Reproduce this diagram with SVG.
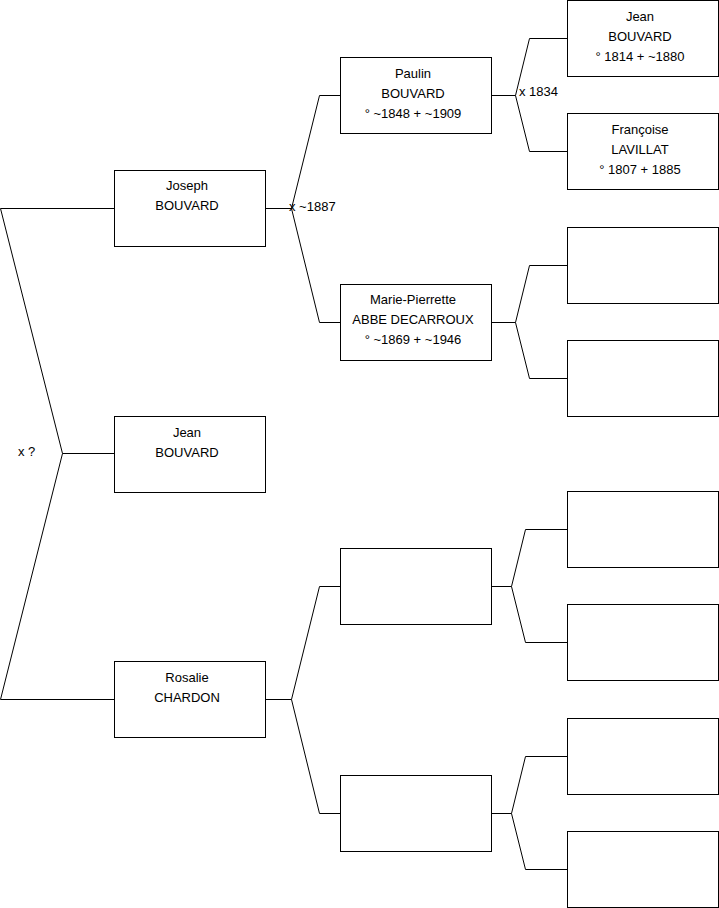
<svg xmlns="http://www.w3.org/2000/svg" width="719" height="908" viewBox="0 0 719 908">
<style>
.box{fill:#fff;stroke:#000;stroke-width:1}
.ln{fill:none;stroke:#000;stroke-width:1}
text{font-family:"Liberation Sans",Arial,sans-serif;font-size:13px;fill:#000}
.c{text-anchor:middle}
</style>
<rect width="719" height="908" fill="#fff"/>
<g id="connectors">
<path class="ln" d="M0.5,208.5 H114 M0.5,208.5 L62.5,453.5 L0.5,699.5 H114 M62.5,453.5 H114"/>
<path class="ln" d="M265,208.5 H291.5 M319.5,95.5 L291.5,208.5 L319.5,322.5 M319.5,95.5 H340 M319.5,322.5 H340"/>
<path class="ln" d="M265,699.5 H291.5 M319.5,586.5 L291.5,699.5 L319.5,813.5 M319.5,586.5 H340 M319.5,813.5 H340"/>
<path class="ln" d="M491,95.5 H515.5 M529.5,38.5 L515.5,95.5 L529.5,151.5 M529.5,38.5 H567 M529.5,151.5 H567"/>
<path class="ln" d="M491,322.5 H515.5 M529.5,265.5 L515.5,322.5 L529.5,378.5 M529.5,265.5 H567 M529.5,378.5 H567"/>
<path class="ln" d="M491,586.5 H511.5 M525.5,529.5 L511.5,586.5 L525.5,642.5 M525.5,529.5 H567 M525.5,642.5 H567"/>
<path class="ln" d="M491,813.5 H511.5 M525.5,756.5 L511.5,813.5 L525.5,869.5 M525.5,756.5 H567 M525.5,869.5 H567"/>
<text x="289" y="211">x ~1887</text>
<text x="519" y="96">x 1834</text>
<text x="18" y="456">x ?</text>
</g>
<g id="joseph"><rect class="box" x="114.5" y="170.5" width="151" height="76"/><text class="c" x="187" y="190">Joseph</text><text class="c" x="187" y="210">BOUVARD</text></g>
<g id="jean1"><rect class="box" x="114.5" y="416.5" width="151" height="76"/><text class="c" x="187" y="437">Jean</text><text class="c" x="187" y="457">BOUVARD</text></g>
<g id="rosalie"><rect class="box" x="114.5" y="661.5" width="151" height="76"/><text class="c" x="187" y="682">Rosalie</text><text class="c" x="187" y="702">CHARDON</text></g>
<g id="paulin"><rect class="box" x="340.5" y="57.5" width="151" height="76"/><text class="c" x="413" y="78">Paulin</text><text class="c" x="413" y="98">BOUVARD</text><text class="c" x="413" y="118">° ~1848 + ~1909</text></g>
<g id="marie"><rect class="box" x="340.5" y="284.5" width="151" height="76"/><text class="c" x="413" y="304">Marie-Pierrette</text><text class="c" x="413" y="324">ABBE DECARROUX</text><text class="c" x="413" y="344">° ~1869 + ~1946</text></g>
<g id="p3"><rect class="box" x="340.5" y="548.5" width="151" height="76"/></g>
<g id="p4"><rect class="box" x="340.5" y="775.5" width="151" height="76"/></g>
<g id="jean2"><rect class="box" x="567.5" y="0.5" width="151" height="76"/><text class="c" x="640" y="21">Jean</text><text class="c" x="640" y="41">BOUVARD</text><text class="c" x="640" y="61">° 1814 + ~1880</text></g>
<g id="francoise"><rect class="box" x="567.5" y="113.5" width="151" height="76"/><text class="c" x="640" y="134">Françoise</text><text class="c" x="640" y="154">LAVILLAT</text><text class="c" x="640" y="174">° 1807 + 1885</text></g>
<g id="g3"><rect class="box" x="567.5" y="227.5" width="151" height="76"/></g>
<g id="g4"><rect class="box" x="567.5" y="340.5" width="151" height="76"/></g>
<g id="g5"><rect class="box" x="567.5" y="491.5" width="151" height="76"/></g>
<g id="g6"><rect class="box" x="567.5" y="604.5" width="151" height="76"/></g>
<g id="g7"><rect class="box" x="567.5" y="718.5" width="151" height="76"/></g>
<g id="g8"><rect class="box" x="567.5" y="831.5" width="151" height="76"/></g>
</svg>
